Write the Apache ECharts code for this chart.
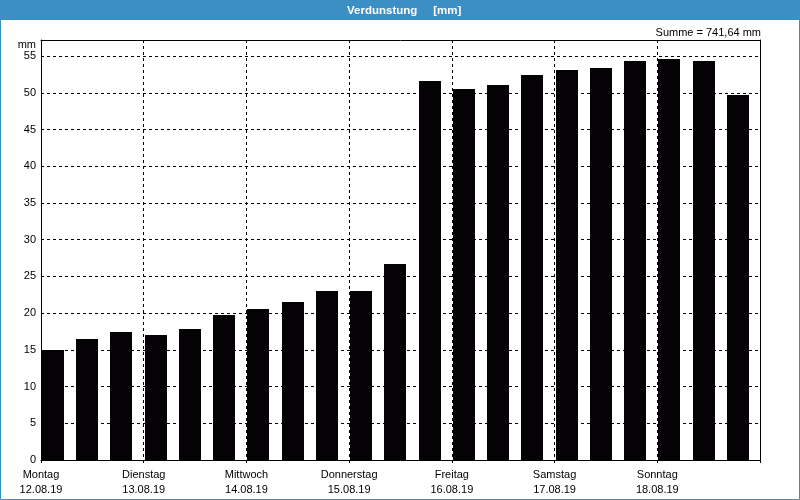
<!DOCTYPE html>
<html>
<head>
<meta charset="utf-8">
<script src="https://cdn.jsdelivr.net/npm/echarts@6/dist/echarts.min.js"></script>
<style>
html,body{margin:0;padding:0;background:#fff;}
#chart{width:800px;height:500px;}
</style>
</head>
<body>
<div id="chart"></div>
<script>
// Data
const dayNames = ['Montag', 'Dienstag', 'Mittwoch', 'Donnerstag', 'Freitag', 'Samstag', 'Sonntag'];
const dayDates = ['12.08.19', '13.08.19', '14.08.19', '15.08.19', '16.08.19', '17.08.19', '18.08.19'];
// start hour of each 8-hour period (from Monday 00:00)
const periodStartHours = [0, 8, 16, 24, 32, 40, 48, 56, 64, 72, 80, 88, 96, 104, 112, 120, 128, 136, 144, 152, 160];
const evaporation = [15.0, 16.5, 17.4, 17.0, 17.8, 19.7, 20.6, 21.5, 23.0, 23.0, 26.7,
                     51.6, 50.5, 51.1, 52.4, 53.1, 53.4, 54.4, 54.6, 54.4, 49.7];
const yTicks = [0, 5, 10, 15, 20, 25, 30, 35, 40, 45, 50, 55];
const titleText = 'Verdunstung     [mm]';
const sumText = 'Summe = 741,64 mm';
const unitText = 'mm';

const seriesData = periodStartHours.map((h, i) => [h, evaporation[i]]);
const FONT = 'Liberation Sans, Arial, sans-serif';
const BLUE = '#3C8FC4';

const chart = echarts.init(document.getElementById('chart'), null, {renderer: 'canvas'});
chart.setOption({
  backgroundColor: '#ffffff',
  animation: false,
  title: {
    text: titleText,
    left: 347,
    top: 4,
    padding: 0,
    textStyle: {color: '#ffffff', fontFamily: FONT, fontSize: 11.5, fontWeight: 'bold', lineHeight: 14}
  },
  graphic: [
    {type: 'rect', z: -10, shape: {x: 0, y: 0, width: 800, height: 20}, style: {fill: BLUE}},
    {type: 'rect', z: -10, shape: {x: 0.5, y: 0.5, width: 799, height: 499}, style: {fill: null, stroke: BLUE, lineWidth: 1}},
    {type: 'text', x: 761, y: 33, style: {text: sumText, align: 'right', verticalAlign: 'middle', fill: '#000', font: '11px ' + FONT}}
  ],
  grid: {left: 41, right: 40, top: 40, bottom: 40, containLabel: false},
  xAxis: [{
    type: 'value', min: 0, max: 168, interval: 24,
    axisLine: {show: true, lineStyle: {color: '#000', width: 1}},
    axisTick: {show: true, length: 3, lineStyle: {color: '#000'}},
    splitLine: {show: true, lineStyle: {color: '#000', type: [3, 3], width: 1}},
    axisLabel: {
      margin: 7, color: '#000', fontFamily: FONT, fontSize: 11, lineHeight: 15,
      formatter: function (v) {
        const i = Math.round(v / 24);
        if (i >= dayNames.length) return '';
        return dayNames[i] + '\n' + dayDates[i];
      }
    }
  }, {
    type: 'value', position: 'top', min: 0, max: 168,
    axisLine: {show: true, onZero: false, lineStyle: {color: '#000', width: 1}},
    axisTick: {show: false}, axisLabel: {show: false}, splitLine: {show: false}
  }],
  yAxis: [{
    type: 'value', min: yTicks[0], max: 57.2, interval: yTicks[1] - yTicks[0],
    name: unitText, nameLocation: 'end', nameGap: -6,
    nameTextStyle: {color: '#000', fontFamily: FONT, fontSize: 11, align: 'right', verticalAlign: 'middle', padding: [0, 5, 0, 0]},
    axisLine: {show: true, lineStyle: {color: '#000', width: 1}},
    axisTick: {show: false},
    splitLine: {show: true, lineStyle: {color: '#000', type: [3, 3], width: 1}},
    axisLabel: {margin: 5, color: '#000', fontFamily: FONT, fontSize: 11, showMaxLabel: false,
      formatter: function (v) { return yTicks.indexOf(v) >= 0 ? String(v) : ''; }}
  }, {
    type: 'value', position: 'right', min: 0, max: 57.2,
    axisLine: {show: true, onZero: false, lineStyle: {color: '#000', width: 1}},
    axisTick: {show: false}, axisLabel: {show: false}, splitLine: {show: false}
  }],
  series: [{
    type: 'custom',
    xAxisIndex: 0, yAxisIndex: 0,
    data: seriesData,
    renderItem: function (params, api) {
      const start = api.value(0);
      const val = api.value(1);
      const top = api.coord([start, val]);
      const base = api.coord([start, 0]);
      const w = api.size([8, 0])[0] * 0.645;
      return {
        type: 'rect',
        shape: {x: Math.round(top[0]) + 1, y: Math.round(top[1]), width: Math.round(w), height: Math.round(base[1]) - Math.round(top[1])},
        style: {fill: '#050206'}
      };
    }
  }]
});
</script>
</body>
</html>
